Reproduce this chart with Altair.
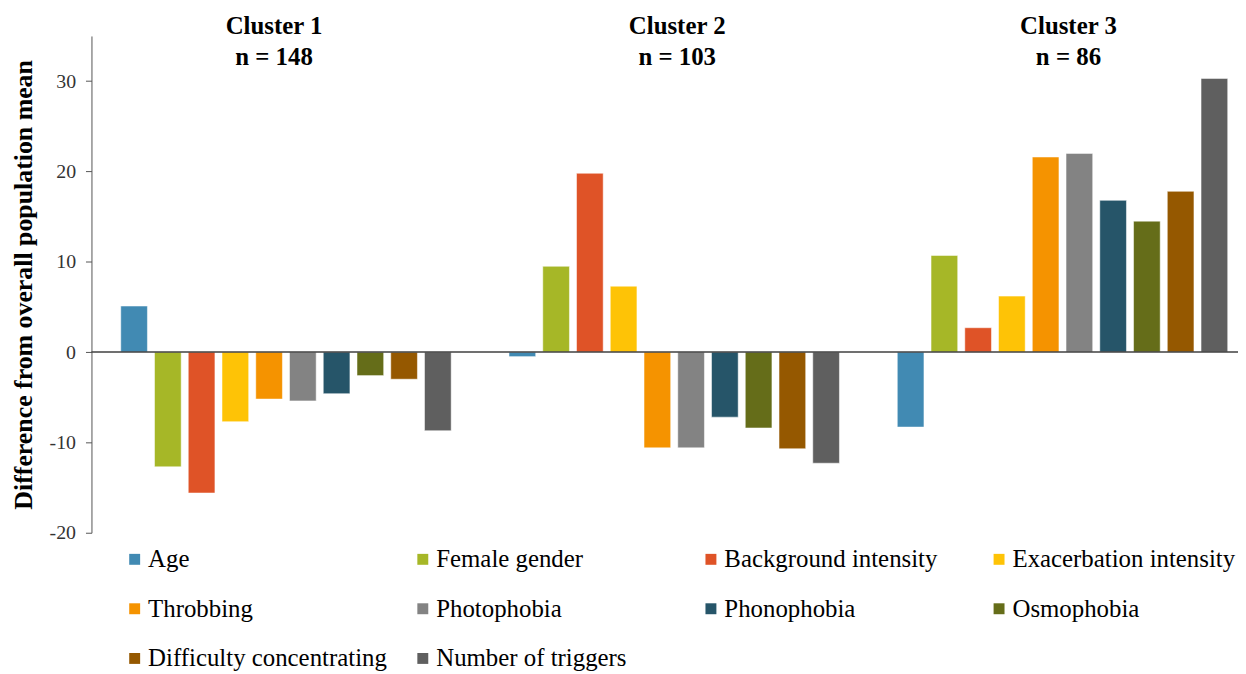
import altair as alt
import pandas as pd

clusters = ["Cluster 1", "Cluster 2", "Cluster 3"]
cluster_n = [148, 103, 86]
variables = ["Age", "Female gender", "Background intensity", "Exacerbation intensity",
             "Throbbing", "Photophobia", "Phonophobia", "Osmophobia",
             "Difficulty concentrating", "Number of triggers"]
colors = ["#418AB3", "#A6B727", "#DF5327", "#FEC306", "#F59300",
          "#838383", "#265569", "#656D19", "#955800", "#5F5F5F"]
cluster1 = [5.1, -12.7, -15.6, -7.7, -5.2, -5.4, -4.6, -2.6, -3.0, -8.7]
cluster2 = [-0.5, 9.5, 19.8, 7.3, -10.6, -10.6, -7.2, -8.4, -10.7, -12.3]
cluster3 = [-8.3, 10.7, 2.7, 6.2, 21.6, 22.0, 16.8, 14.5, 17.8, 30.3]
y_ticks = [-20, -10, 0, 10, 20, 30]

FONT = "Liberation Serif"

cluster_labels = [f"{c}|n = {n}" for c, n in zip(clusters, cluster_n)]
rows = []
for lab, vals in zip(cluster_labels, [cluster1, cluster2, cluster3]):
    for var, v in zip(variables, vals):
        rows.append({"cluster": lab, "variable": var, "value": v})
df = pd.DataFrame(rows)

label_offset = {
    "condition": [
        {"test": "indexof(datum.value, 'Cluster 1') >= 0", "value": -12},
        {"test": "indexof(datum.value, 'Cluster 3') >= 0", "value": 6},
    ],
    "value": 3,
}

bars = alt.Chart(df).mark_bar(stroke="white", strokeWidth=1, strokeOpacity=0.5).encode(
    x=alt.X("cluster:N", sort=cluster_labels, title=None,
            scale=alt.Scale(paddingInner=0.149, paddingOuter=0.051, align=0.74),
            axis=alt.Axis(orient="top", domain=False, ticks=False, labelAngle=0,
                          labelExpr="split(datum.label, '|')",
                          labelOffset=label_offset,
                          labelFont=FONT, labelFontSize=25, labelFontWeight="bold",
                          labelColor="black", labelPadding=-3, labelLineHeight=31)),
    xOffset=alt.XOffset("variable:N", sort=variables,
                        scale=alt.Scale(paddingInner=0.21, paddingOuter=0)),
    y=alt.Y("value:Q", scale=alt.Scale(domain=[-20, 35], nice=False, zero=False),
            axis=alt.Axis(values=y_ticks, grid=False, title="Difference from overall population mean",
                          labelExpr="'' + datum.value",
                          domainColor="#555555", tickColor="#555555", tickSize=6,
                          labelFont=FONT, labelFontSize=20, labelColor="#333333", labelPadding=10,
                          titleFont=FONT, titleFontSize=26, titleFontWeight="bold",
                          titleColor="black", titlePadding=13)),
    color=alt.Color("variable:N",
                    scale=alt.Scale(domain=variables, range=colors),
                    legend=alt.Legend(orient="none", legendX=31, legendY=514, columns=4,
                                      direction="horizontal",
                                      title=None, symbolType="square", symbolSize=121,
                                      symbolStrokeWidth=0, labelFont=FONT, labelFontSize=25,
                                      labelColor="black", labelLimit=400, gridAlign="all",
                                      columnPadding=23, rowPadding=24, labelOffset=1)),
)

zero = alt.Chart(pd.DataFrame({"value": [0]})).mark_rule(color="#404040", strokeWidth=1.5).encode(
    y=alt.Y("value:Q")
)

chart = alt.layer(bars, zero).properties(
    width=1154, height=500,
    autosize=alt.AutoSizeParams(type="none"),
    padding={"left": 84, "top": 26, "right": 0, "bottom": 140},
).configure_view(stroke=None)

chart.save("out.html", embed_options={"renderer": "svg", "actions": False})
